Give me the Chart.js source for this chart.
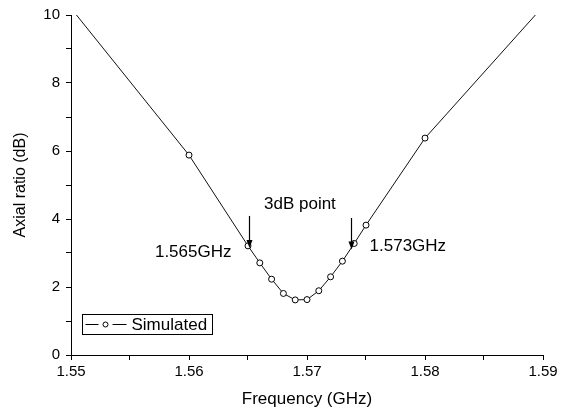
<!DOCTYPE html>
<html>
<head>
<meta charset="utf-8">
<style>
  html, body { margin: 0; padding: 0; background: #fff; }
  #wrap { width: 569px; height: 414px; }
</style>
<script src="https://cdn.jsdelivr.net/npm/chart.js@4/dist/chart.umd.min.js"></script>
</head>
<body>
<div id="wrap"><canvas id="arChart" width="569" height="414"></canvas></div>
<script>
const FONT = "'Liberation Sans', Arial, sans-serif";

// frequency (GHz) and simulated axial ratio (dB)
const freq = [1.55, 1.56, 1.565, 1.566, 1.567, 1.568, 1.569, 1.570, 1.571, 1.572, 1.573, 1.574, 1.575, 1.58, 1.59];
const axialRatio = [10.2, 5.88, 3.21, 2.71, 2.23, 1.81, 1.62, 1.63, 1.89, 2.30, 2.76, 3.28, 3.82, 6.38, 10.25];

const xTicks = [1.55, 1.56, 1.57, 1.58, 1.59];
const yTicks = [0, 2, 4, 6, 8, 10];
const seriesName = "Simulated";
const noteTitle = "3dB point";
const edgeLabels = ["1.565GHz", "1.573GHz"];

const points = freq.map((f, i) => ({x: f, y: axialRatio[i]}));

/* arrows, texts and framed legend drawn on top */
const overlay = {
  id: "overlay",
  afterDatasetsDraw(chart){
    const {ctx, chartArea, scales:{x, y}} = chart;
    ctx.save();
    ctx.fillStyle = "#000";
    ctx.strokeStyle = "#000";
    ctx.font = "17px " + FONT;
    ctx.textBaseline = "middle";

    ctx.textAlign = "center";
    ctx.fillText(noteTitle, x.getPixelForValue(1.5694), y.getPixelForValue(4.44));

    ctx.textAlign = "right";
    ctx.fillText(edgeLabels[0], x.getPixelForValue(1.5636), y.getPixelForValue(3.03));
    ctx.textAlign = "left";
    ctx.fillText(edgeLabels[1], x.getPixelForValue(1.5753), y.getPixelForValue(3.2));

    const arrow = (fx, yTop, yTip) => {
      const px = Math.round(x.getPixelForValue(fx)) + 0.5;
      const t = y.getPixelForValue(yTop), b = y.getPixelForValue(yTip);
      ctx.lineWidth = 1.2;
      ctx.beginPath(); ctx.moveTo(px, t); ctx.lineTo(px, b - 6); ctx.stroke();
      ctx.beginPath();
      ctx.moveTo(px - 3, b - 8); ctx.lineTo(px + 3, b - 8); ctx.lineTo(px, b);
      ctx.closePath(); ctx.fill();
    };
    arrow(1.5651, 4.09, 3.15);
    arrow(1.5737, 4.03, 3.1);

    // legend box
    const bx = chartArea.left + 11.5, by = chartArea.bottom - 40.5;
    ctx.lineWidth = 1;
    ctx.strokeRect(bx, by, 130, 20);
    const cy = by + 10;
    ctx.beginPath(); ctx.moveTo(bx + 3, cy); ctx.lineTo(bx + 16, cy); ctx.stroke();
    ctx.beginPath(); ctx.moveTo(bx + 30, cy); ctx.lineTo(bx + 44, cy); ctx.stroke();
    ctx.beginPath(); ctx.arc(bx + 23, cy, 2.5, 0, Math.PI * 2);
    ctx.fillStyle = "#fff"; ctx.fill(); ctx.stroke();
    ctx.fillStyle = "#000";
    ctx.textAlign = "left";
    ctx.font = "17px " + FONT;
    ctx.fillText(seriesName, bx + 49, cy + 1);
    ctx.restore();
  }
};

new Chart(document.getElementById("arChart"), {
  type: "line",
  data: {
    datasets: [{
      label: seriesName,
      data: points,
      borderColor: "#111",
      borderWidth: 1,
      tension: 0,
      pointRadius: c => (c.dataIndex === 0 || c.dataIndex === freq.length - 1) ? 0 : 3,
      pointBorderWidth: 1,
      pointBorderColor: "#000",
      pointBackgroundColor: "#fff"
    }]
  },
  options: {
    responsive: false,
    animation: false,
    layout: {padding: {top: 15, right: 26, left: 0, bottom: 0}},
    plugins: {legend: {display: false}, tooltip: {enabled: false}},
    scales: {
      x: {
        type: "linear",
        min: 1.55, max: 1.59,
        afterFit: s => { s.height = 59; },
        afterBuildTicks: s => {
          const t = [];
          for (let i = 0; i <= 8; i++) t.push({value: 1.55 + i * 0.005});
          s.ticks = t;
        },
        grid: {drawOnChartArea: false, drawTicks: true, tickLength: 5, color: "#000", tickWidth: 1},
        border: {color: "#000", width: 1},
        ticks: {
          color: "#000",
          font: {family: FONT, size: 15},
          padding: 3,
          maxRotation: 0,
          autoSkip: false,
          callback: v => {
            const hit = xTicks.find(t => Math.abs(t - v) < 1e-6);
            return hit !== undefined ? hit.toFixed(2) : "";
          }
        },
        title: {display: true, text: "Frequency (GHz)", color: "#000",
          font: {family: FONT, size: 17}, padding: {top: 4, bottom: 4}}
      },
      y: {
        min: 0, max: 10,
        afterFit: s => { s.width = 71; },
        afterBuildTicks: s => {
          const t = [];
          for (let i = 0; i <= 10; i++) t.push({value: i});
          s.ticks = t;
        },
        grid: {drawOnChartArea: false, drawTicks: true, tickLength: 5, color: "#000", tickWidth: 1},
        border: {color: "#000", width: 1},
        ticks: {
          color: "#000",
          font: {family: FONT, size: 15},
          padding: 6,
          autoSkip: false,
          callback: v => yTicks.includes(v) ? String(v) : ""
        },
        title: {display: true, text: "Axial ratio (dB)", color: "#000",
          font: {family: FONT, size: 16}, padding: {top: 11, bottom: 0}}
      }
    }
  },
  plugins: [overlay]
});
</script>
</body>
</html>
